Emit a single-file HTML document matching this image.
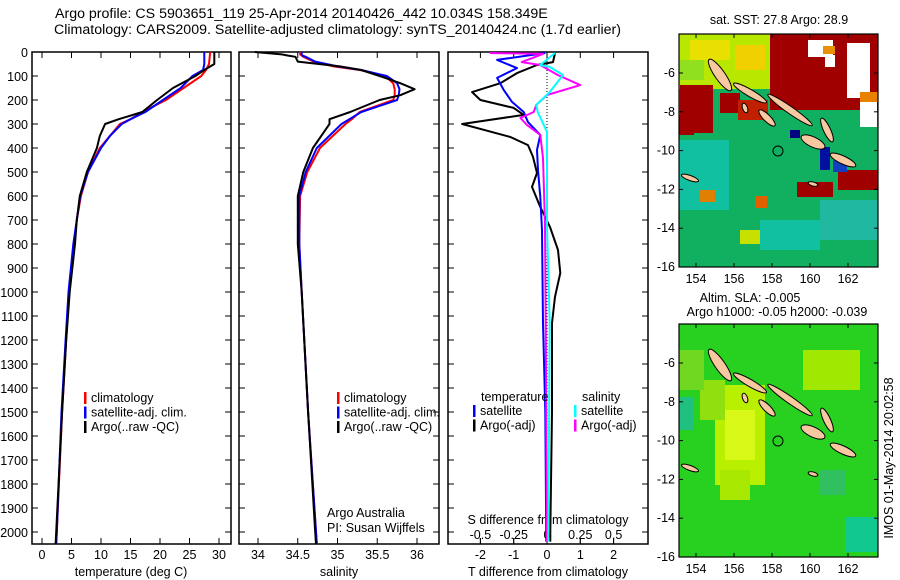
<!DOCTYPE html>
<html><head><meta charset="utf-8"><style>
html,body{margin:0;padding:0;background:#fff;}
svg{display:block;font-family:"Liberation Sans",sans-serif;}
</style></head><body>
<svg id="fig" width="900" height="580" viewBox="0 0 900 580" xmlns="http://www.w3.org/2000/svg">
<text x="55" y="18" font-size="14.2">Argo profile: CS 5903651_119 25-Apr-2014 20140426_442 10.034S 158.349E</text>
<text x="54" y="34" font-size="14.2">Climatology: CARS2009. Satellite-adjusted climatology: synTS_20140424.nc (1.7d earlier)</text>
<g id="p1"></g>
<g id="p2"></g>
<g id="p3"></g>
<g id="maps"></g>
</svg>
<script>
// ---- data ----
const depthsT = [0,50,75,100,150,200,250,280,300,350,400,500,600,700,800,1000,1200,1500,2000,2050];
const tempClim = [28.5,28.3,27.8,27,24,21,17,15,13.2,11.5,9.8,7.8,6.6,5.9,5.4,4.6,4.1,3.4,2.5,2.4];
const tempSat = [27.5,27.5,27.3,25.5,23.5,20.5,17.5,15,13.5,11.5,10,7.8,6.5,5.9,5.3,4.5,4.0,3.3,2.5,2.4];
const tempArgo = [29.2,29.2,27.5,26,22.2,19.5,17,13,10.7,9.8,9.3,7.6,6.4,5.9,5.6,4.7,4.1,3.4,2.4,2.3];
const depthsS = [0,10,15,20,40,60,75,100,130,155,180,200,250,280,300,400,500,600,800,1000,1500,2000,2050];
const salClim = [34.53,34.53,34.55,34.57,34.7,34.95,35.28,35.6,35.7,35.72,35.72,35.7,35.28,35.18,35.1,34.78,34.62,34.53,34.52,34.55,34.63,34.73,34.74];
const salSat = [34.55,34.55,34.56,34.6,34.72,35,35.3,35.62,35.75,35.78,35.77,35.75,35.3,35.15,35.05,34.74,34.6,34.52,34.52,34.55,34.63,34.73,34.74];
const salArgo = [33.96,34.3,34.38,34.47,34.5,35.03,35.3,35.53,35.79,35.97,35.79,35.53,35.16,34.9,34.9,34.69,34.57,34.5,34.5,34.55,34.63,34.72,34.73];
const depthsDTArgo = [4,42,54,88,130,167,200,233,262,300,354,388,437,504,562,646,729,825,921,1020,1129,1500,2000,2040];
const dTArgo = [0.24,0.18,-0.3,-0.9,-1.4,-2.25,-2.0,-1.0,-0.7,-2.55,-1.1,-0.57,-0.42,-0.3,-0.45,-0.2,0.09,0.33,0.4,0.24,0.15,0.15,0.1,0.1];
const depthsDTSat = [4,33,67,108,158,208,250,292,346,408,492,604,742,1129,1500,2040];
const dTSat = [-0.05,-1.5,-0.9,-1.5,-1.3,-1.05,-0.7,-0.57,-0.2,-0.3,-0.27,-0.2,-0.15,-0.12,-0.05,-0.02];
const depthsDSArgo = [4,8,42,54,96,138,179,221,250,275,304,346,442,717,1129,2040];
const dSArgo = [-0.43,-0.03,-0.19,-0.05,0.08,0.25,0,-0.08,-0.1,-0.2,-0.15,-0.05,-0.03,-0.015,-0.01,0];
const depthsDSSat = [4,54,62,96,167,221,250,333,717,1129,2040];
const dSSat = [0.06,-0.05,0.02,0.12,0.02,-0.08,-0.07,0,0,0.02,0.01];
const depthTicks = [0,100,200,300,400,500,600,700,800,900,1000,1100,1200,1300,1400,1500,1600,1700,1800,1900,2000];
const tempTicks = [0,5,10,15,20,25,30];
const salTicks = [34,34.5,35,35.5,36];
const dTTicks = [-2,-1,0,1,2];
const dSTicks = [-0.5,-0.25,0,0.25,0.5];
const dSTickLabels = ['-0.5','-0.25','0','0.25','0.5'];
const lonTicks = [154,156,158,160,162];
const latTicks = [-6,-8,-10,-12,-14,-16];

const NS='http://www.w3.org/2000/svg';
const FS=12.5;
function mk(tag, attrs, parent, txt){const e=document.createElementNS(NS,tag);for(const k in attrs)e.setAttribute(k,attrs[k]);if(txt!==undefined)e.textContent=txt;parent.appendChild(e);return e;}
const TOP=52, BOT=544;
const yD = d => TOP + d*0.24;
const xT = t => 42 + t*5.9;
const xS = s => 258 + (s-34)*79.5;
const xDT = t => 547 + t*33.3;
const xDS = s => 547 + s*133.2;

function frame(g,x0,x1,name){
  const r=mk('rect',{x:x0,y:TOP,width:x1-x0,height:BOT-TOP,fill:'none',stroke:'#000','stroke-width':1.5},g);
  
  
  depthTicks.forEach(d=>{mk('line',{x1:x0,x2:x0+6,y1:yD(d),y2:yD(d),stroke:'#000'},g);mk('line',{x1:x1-6,x2:x1,y1:yD(d),y2:yD(d),stroke:'#000'},g);});
}
function line(g,xs,ds,fx,color,name,w){
  const pts=xs.map((v,i)=>fx(v).toFixed(1)+','+yD(ds[i]).toFixed(1)).join(' ');
  const p=mk('polyline',{points:pts,fill:'none',stroke:color,'stroke-width':w||2,'stroke-linejoin':'round'},g);
  
  
}
function legend(g,x,y,items){
  items.forEach((it,i)=>{
    mk('rect',{x:x,y:y+i*14.5-10,width:2.5,height:12,fill:it[0]},g);
    const t=mk('text',{x:x+7,y:y+i*14.5,'font-size':FS},g,it[1]);
    
    
  });
}
// panel 1
const p1=document.getElementById('p1');
frame(p1,32,231,'temperature-plot-frame');
depthTicks.forEach(d=>{const t=mk('text',{x:28,y:yD(d)+5,'font-size':FS,'text-anchor':'end'},p1,String(d));});
tempTicks.forEach(v=>{mk('line',{x1:xT(v),x2:xT(v),y1:TOP,y2:TOP+6,stroke:'#000'},p1);mk('line',{x1:xT(v),x2:xT(v),y1:BOT-6,y2:BOT,stroke:'#000'},p1);mk('text',{x:xT(v),y:559,'font-size':FS,'text-anchor':'middle'},p1,String(v));});
mk('text',{x:131,y:576,'font-size':FS,'text-anchor':'middle',},p1,'temperature (deg C)');
line(p1,tempClim,depthsT,xT,'#ff0000','temp-climatology-line');
line(p1,tempSat,depthsT,xT,'#0000ff','temp-satellite-line');
line(p1,tempArgo,depthsT,xT,'#000','temp-argo-line');
legend(p1,84,402,[['#ff0000','climatology'],['#0000ff','satellite-adj. clim.'],['#000','Argo(..raw -QC)']]);
// panel 2
const p2=document.getElementById('p2');
frame(p2,239,439,'salinity-plot-frame');
salTicks.forEach(v=>{mk('line',{x1:xS(v),x2:xS(v),y1:TOP,y2:TOP+6,stroke:'#000'},p2);mk('line',{x1:xS(v),x2:xS(v),y1:BOT-6,y2:BOT,stroke:'#000'},p2);mk('text',{x:xS(v),y:559,'font-size':FS,'text-anchor':'middle'},p2,String(v));});
mk('text',{x:339,y:576,'font-size':FS,'text-anchor':'middle',},p2,'salinity');
line(p2,salClim,depthsS,xS,'#ff0000','sal-climatology-line');
line(p2,salSat,depthsS,xS,'#0000ff','sal-satellite-line');
line(p2,salArgo,depthsS,xS,'#000','sal-argo-line');
legend(p2,337,402,[['#ff0000','climatology'],['#0000ff','satellite-adj. clim.'],['#000','Argo(..raw -QC)']]);
mk('text',{x:327,y:517,'font-size':FS,},p2,'Argo Australia');
mk('text',{x:327,y:532,'font-size':FS,},p2,'PI: Susan Wijffels');
// panel 3
const p3=document.getElementById('p3');
frame(p3,448,648,'difference-plot-frame');
mk('line',{x1:xDT(0),x2:xDT(0),y1:TOP,y2:BOT,stroke:'#000','stroke-dasharray':'1,2',},p3);
dSTicks.forEach((v,i)=>{mk('line',{x1:xDS(v),x2:xDS(v),y1:TOP,y2:TOP+6,stroke:'#000'},p3);mk('line',{x1:xDS(v),x2:xDS(v),y1:BOT-6,y2:BOT,stroke:'#000'},p3);mk('text',{x:xDS(v),y:539,'font-size':FS,'text-anchor':'middle'},p3,dSTickLabels[i]);});
dTTicks.forEach(v=>{mk('line',{x1:xDT(v),x2:xDT(v),y1:BOT-6,y2:BOT,stroke:'#000'},p3);mk('text',{x:xDT(v),y:559,'font-size':FS,'text-anchor':'middle'},p3,String(v));});
mk('text',{x:548,y:524,'font-size':FS,'text-anchor':'middle',},p3,'S difference from climatology');
mk('text',{x:548,y:576,'font-size':FS,'text-anchor':'middle',},p3,'T difference from climatology');
line(p3,dTArgo,depthsDTArgo,xDT,'#000','dT-argo-line');
line(p3,dTSat,depthsDTSat,xDT,'#0000ff','dT-satellite-line');
line(p3,dSArgo,depthsDSArgo,xDS,'#ff00ff','dS-argo-line');
line(p3,dSSat,depthsDSSat,xDS,'#00ffff','dS-satellite-line');
mk('text',{x:481,y:401,'font-size':FS},p3,'temperature');
mk('text',{x:582,y:401,'font-size':FS},p3,'salinity');
legend(p3,473,415,[['#0000ff','satellite'],['#000','Argo(-adj)']]);
legend(p3,574,415,[['#00ffff','satellite'],['#ff00ff','Argo(-adj)']]);

// ---- maps ----
const maps=document.getElementById('maps');
const MX0=679,MX1=878;
const xLon = l => 696 + (l-154)*19;
function drawMap(oy,kind){
  const g=mk('g',{},maps);
  
  
  const yLat = la => oy+73 + (-6-la)*19.4;
  const y0=oy+34,y1=oy+267;
  mk('clipPath',{id:'c'+kind},g).appendChild(document.createElementNS(NS,'rect'));
  const cr=g.querySelector('clipPath rect');cr.setAttribute('x',MX0);cr.setAttribute('y',y0);cr.setAttribute('width',MX1-MX0);cr.setAttribute('height',y1-y0);
  const b=mk('g',{'clip-path':'url(#c'+kind+')'},g);
  const R=(x,y,w,h,f)=>mk('rect',{x:x,y:oy+y,width:w,height:h,fill:f},b);
  if(kind==='sst'){
    R(679,34,200,233,'#10b060');
    R(679,34,92,55,'#b8e800');R(690,40,40,20,'#e8e000');R(735,45,30,25,'#f0d000');R(679,60,25,20,'#90e020');
    R(679,140,50,70,'#10c0a0');R(760,220,60,30,'#10c0a0');R(820,200,58,40,'#20b8a0');
    R(770,34,108,76,'#a00000');R(808,40,25,17,'#fff');R(825,55,10,12,'#fff');R(847,43,23,55,'#fff');R(860,100,17,27,'#fff');R(823,46,12,8,'#e89000');R(860,92,18,10,'#e88000');
    R(680,85,33,48,'#a00000');R(720,93,20,20,'#a00000');R(679,115,15,20,'#a00000');
    R(797,182,36,15,'#a00000');R(838,170,40,20,'#a00000');R(738,100,30,20,'#c02000');
    R(820,147,10,23,'#0010a0');R(833,160,14,12,'#1040c0');R(790,130,10,8,'#000080');
    R(700,190,15,12,'#e08000');R(755,196,12,12,'#e06000');R(740,230,20,14,'#c8e000');
  } else {
    R(679,34,200,233,'#28d020');
    R(715,95,50,100,'#b8f000');R(725,120,30,50,'#d8f818');R(720,180,30,30,'#a8e800');R(700,90,25,40,'#90e010');
    R(803,60,57,40,'#a0e800');R(679,60,25,40,'#70d820');
    R(679,107,14,33,'#20c080');R(845,227,33,35,'#10c890');R(820,180,25,25,'#30c060');
  }
  const isl=[[720,75,19,5,55],[750,93,19,3.5,30],[790,110,27,3.5,35],[767,118,11,3.5,45],[827,130,13,3.5,65],[813,142,13,5,25],[843,160,14,4,25],[745,108,5,2.5,70],[690,178,9,2.5,20],[813,184,5,2,15]];
  isl.forEach(e=>{const el=mk('ellipse',{cx:e[0],cy:oy+e[1],rx:e[2],ry:e[3],fill:'#f8c8a0',stroke:'#000','stroke-width':1,transform:'rotate('+e[4]+' '+e[0]+' '+(oy+e[1])+')'},b);});
  const c=mk('circle',{cx:778,cy:oy+151,r:5,fill:'none',stroke:'#000','stroke-width':1},b);
  
  
  mk('rect',{x:MX0,y:y0,width:MX1-MX0,height:y1-y0,fill:'none',stroke:'#000','stroke-width':1.2},g);
  lonTicks.forEach(l=>{mk('line',{x1:xLon(l),x2:xLon(l),y1:y0,y2:y0+4,stroke:'#000'},g);mk('line',{x1:xLon(l),x2:xLon(l),y1:y1-4,y2:y1,stroke:'#000'},g);mk('text',{x:xLon(l),y:y1+16,'font-size':FS,'text-anchor':'middle'},g,String(l));});
  latTicks.forEach(la=>{mk('line',{x1:MX0,x2:MX0+4,y1:yLat(la),y2:yLat(la),stroke:'#000'},g);mk('line',{x1:MX1-4,x2:MX1,y1:yLat(la),y2:yLat(la),stroke:'#000'},g);mk('text',{x:675,y:yLat(la)+4,'font-size':FS,'text-anchor':'end'},g,String(la));});
}
drawMap(0,'sst');
drawMap(290,'sla');
mk('text',{x:779,y:24,'font-size':FS,'text-anchor':'middle',},maps,'sat. SST: 27.8 Argo: 28.9');
mk('text',{x:750,y:302,'font-size':FS,'text-anchor':'middle',},maps,'Altim. SLA: -0.005');
mk('text',{x:777,y:316,'font-size':FS,'text-anchor':'middle',},maps,'Argo h1000: -0.05 h2000: -0.039');
mk('text',{x:893,y:458,'font-size':FS,'text-anchor':'middle','transform':'rotate(-90 893 458)',},maps,'IMOS 01-May-2014 20:02:58');
</script>
</body></html>
